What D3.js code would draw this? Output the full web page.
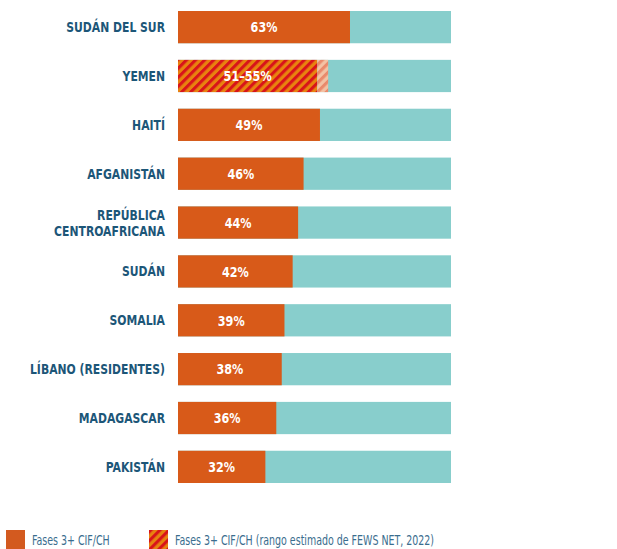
<!DOCTYPE html>
<html>
<head>
<meta charset="utf-8">
<script src="https://cdn.jsdelivr.net/npm/d3@7"></script>
<style>
  body { margin: 0; background: #fff; }
  svg text { font-family: "DejaVu Sans Condensed", "Roboto", sans-serif; }
</style>
</head>
<body>
<div id="chart"></div>
<script>
// Datos
const countries = ["SUDÁN DEL SUR", "YEMEN", "HAITÍ", "AFGANISTÁN", "REPÚBLICA|CENTROAFRICANA",
    "SUDÁN", "SOMALIA", "LÍBANO (RESIDENTES)", "MADAGASCAR", "PAKISTÁN"];
const phase3Values = [63, 51, 52, 46, 44, 42, 39, 38, 36, 32];
const rangeHigh = [null, 55, null, null, null, null, null, null, null, null];
const valueLabels = ["63%", "51–55%", "49%", "46%", "44%", "42%", "39%", "38%", "36%", "32%"];
const legendLabels = ["Fases 3+ CIF/CH", "Fases 3+ CIF/CH (rango estimado de FEWS NET, 2022)"];

const width = 617, height = 549;
const margin = { top: 11, left: 178, right: 166, bottom: 66 };

const svg = d3.select('#chart').append('svg')
    .attr('width', width)
    .attr('height', height);

const defs = svg.append('defs');
const hatch = defs.append('pattern')
    .attr('id', 'hatch')
    .attr('patternUnits', 'userSpaceOnUse')
    .attr('width', 6.4).attr('height', 6.4)
    .attr('patternTransform', 'rotate(45)');
hatch.append('rect').attr('width', 6.4).attr('height', 6.4).attr('fill', '#e8830f');
hatch.append('rect').attr('width', 3.1).attr('height', 6.4).attr('fill', '#d8141a');

const hatchLight = defs.append('pattern')
    .attr('id', 'hatchLight')
    .attr('patternUnits', 'userSpaceOnUse')
    .attr('width', 6.4).attr('height', 6.4)
    .attr('patternTransform', 'rotate(45)');
hatchLight.append('rect').attr('width', 6.4).attr('height', 6.4).attr('fill', '#f3c2a4');
hatchLight.append('rect').attr('width', 3.1).attr('height', 6.4).attr('fill', '#e98a6c');

const x = d3.scaleLinear()
    .domain([0, 100])
    .range([margin.left, width - margin.right]);

const y = d3.scaleBand()
    .domain(countries)
    .range([margin.top, height - margin.bottom])
    .paddingInner(0.34)
    .paddingOuter(0);

const rows = svg.selectAll('.row')
    .data(countries)
    .enter().append('g')
    .attr('class', 'row');

// fondo turquesa
rows.append('rect')
    .attr('x', x(0))
    .attr('y', d => y(d))
    .attr('width', x(100) - x(0))
    .attr('height', y.bandwidth())
    .attr('fill', '#88cecc');

// barra de fase 3+
rows.append('rect')
    .attr('x', x(0))
    .attr('y', d => y(d))
    .attr('width', (d, i) => x(phase3Values[i]) - x(0))
    .attr('height', y.bandwidth())
    .attr('fill', (d, i) => rangeHigh[i] ? 'url(#hatch)' : '#d85a19');

// rango estimado
rows.filter((d, i) => rangeHigh[i])
    .append('rect')
    .attr('x', d => x(phase3Values[countries.indexOf(d)]))
    .attr('y', d => y(d))
    .attr('width', d => {
        const i = countries.indexOf(d);
        return x(rangeHigh[i]) - x(phase3Values[i]);
    })
    .attr('height', y.bandwidth())
    .attr('fill', 'url(#hatchLight)');

// etiquetas de valor
rows.append('text')
    .attr('transform', (d, i) =>
        `translate(${x(0) + (x(phase3Values[i]) - x(0)) / 2},${y(d) + y.bandwidth() / 2}) scale(0.86,1)`)
    .attr('dy', '0.36em')
    .attr('text-anchor', 'middle')
    .style('font-size', '14.5px')
    .style('font-weight', 'bold')
    .style('fill', '#fff')
    .text((d, i) => valueLabels[i]);

// nombres de países
rows.each(function(d) {
    const lines = d.split('|');
    const cy = y(d) + y.bandwidth() / 2;
    const t = d3.select(this).append('text')
        .attr('transform', `translate(165,${cy}) scale(0.86,1)`)
        .attr('text-anchor', 'end')
        .style('font-size', '14px')
        .style('font-weight', 'bold')
        .style('fill', '#1c5678');
    lines.forEach((line, k) => {
        t.append('tspan')
            .attr('x', 0)
            .attr('y', (k - (lines.length - 1) / 2) * 16)
            .attr('dy', '0.36em')
            .text(line);
    });
});

// leyenda
const legend = svg.append('g').attr('class', 'legend');
const legendX = [6, 149];
legendLabels.forEach((lab, i) => {
    legend.append('rect')
        .attr('x', legendX[i])
        .attr('y', 530)
        .attr('width', 19)
        .attr('height', 19)
        .attr('fill', i === 0 ? '#d35a1f' : 'url(#hatch)');
    legend.append('text')
        .attr('transform', `translate(${legendX[i] + 26},540) scale(0.78,1)`)
        .attr('dy', '0.36em')
        .style('font-size', '13.5px')
        .style('fill', '#3a6d8e')
        .text(lab);
});
</script>
</body>
</html>
